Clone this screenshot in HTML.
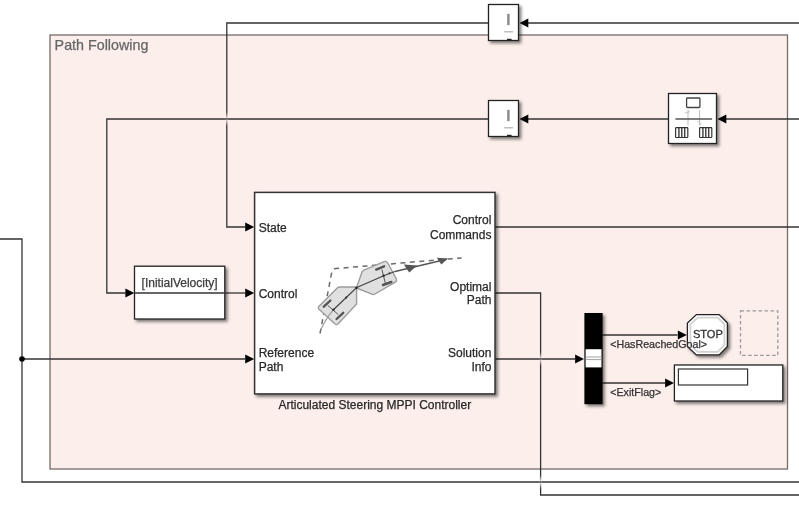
<!DOCTYPE html>
<html><head><meta charset="utf-8">
<style>
html,body{margin:0;padding:0;background:#fff;width:799px;height:529px;overflow:hidden}
svg{display:block;font-family:"Liberation Sans",sans-serif;will-change:transform}
</style></head>
<body>
<svg width="799" height="529" viewBox="0 0 799 529">
<defs>
<filter id="sh" x="-20%" y="-20%" width="150%" height="150%">
<feDropShadow dx="2.2" dy="2.2" stdDeviation="1.6" flood-color="#000" flood-opacity="0.5"/>
</filter>
<marker id="ar" viewBox="0 0 10 10" refX="10" refY="5" markerWidth="9" markerHeight="9" markerUnits="userSpaceOnUse" orient="auto">
<path d="M0,0 L10,5 L0,10 z" fill="#000"/>
</marker>
<linearGradient id="gpT" x1="0" y1="0" x2="0" y2="1"><stop offset="0" stop-color="#fcefeb" stop-opacity="0"/><stop offset="1" stop-color="#fcefeb" stop-opacity="0.85"/></linearGradient>
<linearGradient id="gpB" x1="0" y1="0" x2="0" y2="1"><stop offset="0" stop-color="#fcefeb" stop-opacity="0.85"/><stop offset="1" stop-color="#fcefeb" stop-opacity="0"/></linearGradient>
<linearGradient id="gwT" x1="0" y1="0" x2="0" y2="1"><stop offset="0" stop-color="#fff" stop-opacity="0"/><stop offset="1" stop-color="#fff" stop-opacity="0.85"/></linearGradient>
<linearGradient id="gwB" x1="0" y1="0" x2="0" y2="1"><stop offset="0" stop-color="#fff" stop-opacity="0.85"/><stop offset="1" stop-color="#fff" stop-opacity="0"/></linearGradient>
</defs>
<rect width="799" height="529" fill="#fff"/>
<!-- area -->
<rect x="50" y="35" width="737.5" height="434" fill="#fcefeb" stroke="#736c6a" stroke-width="1.3"/>
<text x="54.6" y="49.8" font-size="14.3" fill="#666" stroke="#666" stroke-width="0.25">Path Following</text>

<!-- signal lines -->
<g fill="none" stroke="#333" stroke-width="1.3">
<path d="M799,23 H528"/>
<path d="M488.5,23 H226.8 V227 H245"/>
<path d="M799,119 H726"/>
<path d="M668.5,119 H528"/>
<path d="M488.5,119 H106.8 V293 H125.5"/>
<path d="M224.5,293 H245"/>
<path d="M0,239 H22 V482 H799"/>
<path d="M22,359 H245"/>
<path d="M494.5,227 H799"/>
<path d="M494.5,293 H540.6 V495 H799"/>
<path d="M494.5,359 H575"/>
<path d="M602.5,335 H677.5"/>
<path d="M602.5,383 H665.5"/>
</g>
<!-- crossing gaps -->
<rect x="225.6" y="112" width="2.6" height="6.3" fill="url(#gpT)"/><rect x="225.6" y="119.7" width="2.6" height="6.3" fill="url(#gpB)"/>
<rect x="539.4" y="352" width="2.6" height="6.3" fill="url(#gpT)"/><rect x="539.4" y="359.7" width="2.6" height="6.3" fill="url(#gpB)"/>
<rect x="539.4" y="475" width="2.6" height="6.3" fill="url(#gwT)"/><rect x="539.4" y="482.7" width="2.6" height="6.3" fill="url(#gwB)"/>
<circle cx="22" cy="359" r="2.8" fill="#000"/>
<!-- arrowheads -->
<g fill="#000">
<path d="M519.5,23 L528.3,18.6 L528.3,27.4 z"/>
<path d="M519.5,119 L528.3,114.6 L528.3,123.4 z"/>
<path d="M717.5,119 L726.3,114.6 L726.3,123.4 z"/>
<path d="M254.2,227 L245.2,222.6 L245.2,231.4 z"/>
<path d="M134.3,293 L125.4,288.6 L125.4,297.4 z"/>
<path d="M254.2,293 L245.2,288.6 L245.2,297.4 z"/>
<path d="M254.2,359 L245.2,354.6 L245.2,363.4 z"/>
<path d="M584,359 L575.1,354.6 L575.1,363.4 z"/>
<path d="M686.8,335 L677.8,330.6 L677.8,339.4 z"/>
<path d="M674,383 L665.1,378.6 L665.1,387.4 z"/>
</g>

<!-- block 1 (top) -->
<g filter="url(#sh)"><rect x="488.5" y="4.5" width="30" height="36" fill="#fff" stroke="#222" stroke-width="1.3"/></g>
<rect x="507.2" y="13.8" width="2.4" height="11.4" fill="#8a8a8a"/>
<rect x="504" y="31.2" width="9" height="1.2" fill="#b0b0b0"/>
<rect x="507" y="38.8" width="4.6" height="1.8" fill="#222"/>
<!-- block 2 -->
<g filter="url(#sh)"><rect x="488.5" y="100.5" width="30" height="36" fill="#fff" stroke="#222" stroke-width="1.3"/></g>
<rect x="507.2" y="109.8" width="2.4" height="11.4" fill="#8a8a8a"/>
<rect x="504" y="127.2" width="9" height="1.2" fill="#b0b0b0"/>
<rect x="507" y="134.8" width="4.6" height="1.8" fill="#222"/>

<!-- block 3 (bus icon) -->
<g filter="url(#sh)"><rect x="668.5" y="93.5" width="48" height="50" fill="#fff" stroke="#222" stroke-width="1.3"/></g>
<rect x="686.6" y="98" width="13.3" height="9.5" rx="0.8" fill="none" stroke="#444" stroke-width="1.3"/>
<path d="M688,110 V125.5 M699.6,110 V125.5" stroke="#bdbdbd" stroke-width="1"/>
<path d="M684.8,113 L687,112.6 L689.6,111.8 M687.6,110.6 L689.6,111.8 M697.2,121.6 L699.4,122.2 L701.4,123.6 M699.8,125.4 L701.4,123.6" stroke="#c4c4c4" stroke-width="0.9" fill="none"/>
<path d="M675.4,119 H712.1" stroke="#555" stroke-width="1.3"/>
<g fill="none" stroke="#333" stroke-width="1.2">
<rect x="675.6" y="127.7" width="12.2" height="9.8" rx="0.8"/>
<rect x="699.6" y="127.7" width="12.2" height="9.8" rx="0.8"/>
</g>
<g stroke="#3a3a3a" stroke-width="1.4">
<path d="M678.9,127.7 V137.5 M681.8,127.7 V137.5 M684.7,127.7 V137.5"/>
<path d="M702.9,127.7 V137.5 M705.8,127.7 V137.5 M708.7,127.7 V137.5"/>
</g>

<!-- InitialVelocity block -->
<g filter="url(#sh)"><rect x="134.5" y="266.2" width="90.3" height="52.8" fill="#fff" stroke="#222" stroke-width="1.3"/></g>
<path d="M134.5,293 H224.8" stroke="#333" stroke-width="1.3"/>
<text x="179.6" y="287.3" font-size="12" fill="#3c3c3c" stroke="#3c3c3c" stroke-width="0.25" text-anchor="middle">[InitialVelocity]</text>

<!-- main block -->
<g filter="url(#sh)"><rect x="254.6" y="192.4" width="240.4" height="201.5" fill="#fff" stroke="#333" stroke-width="1.5"/></g>
<g font-size="12" fill="#282828" stroke="#282828" stroke-width="0.25">
<text x="258.7" y="231.6">State</text>
<text x="258.7" y="298">Control</text>
<text x="258.7" y="357">Reference</text>
<text x="258.7" y="370.7">Path</text>
<text x="491.4" y="224.4" text-anchor="end">Control</text>
<text x="491.4" y="238.6" text-anchor="end">Commands</text>
<text x="491.4" y="291" text-anchor="end">Optimal</text>
<text x="491.4" y="304.4" text-anchor="end">Path</text>
<text x="491.4" y="356.9" text-anchor="end">Solution</text>
<text x="491.4" y="370.6" text-anchor="end">Info</text>
</g>
<text x="374.8" y="409" font-size="12" fill="#282828" stroke="#282828" stroke-width="0.25" text-anchor="middle">Articulated Steering MPPI Controller</text>

<!-- vehicle icon -->
<g>
<path d="M320,333.5 L332,271 Q332.8,268.8 335.5,268.6 L461.6,257.9" fill="none" stroke="#6a6a6a" stroke-width="1.5" stroke-dasharray="5,4.5"/>
<path d="M318.8,306.4 Q317.6,307.8 319,309.2 L335,324 Q336.5,325.2 338,324 L356.6,304 L356.6,288.5 Q356.3,287 354.8,287 L339.5,287 Q338.3,287 337.5,287.8 z" fill="#e0e0e0" stroke="#9c9c9c" stroke-width="1.4"/>
<path d="M356.4,288 L362,272 Q362.8,270.5 364.5,269.8 L384,261.6 Q386.5,260.8 387.8,263 L396.4,279 Q397,281.5 394.5,282.6 L375,294 Q373.5,294.8 372,294.2 z" fill="#e0e0e0" stroke="#9c9c9c" stroke-width="1.4"/>
<path d="M320.7,330 Q326,318 333.4,309.8" fill="none" stroke="#999" stroke-width="1.1"/>
<path d="M333.4,309.8 L356.4,287.7 L383.6,275.8 L395,271.5" fill="none" stroke="#444" stroke-width="1.2"/>
<path d="M395,271.5 L446.7,259.2" fill="none" stroke="#555" stroke-width="1.4"/>
<path d="M403.8,264.6 L417.2,265.6 L409.2,272.4 z" fill="#555"/>
<path d="M436.8,257.8 L448,258.6 L441.3,264.6 z" fill="#555"/>
<g stroke="#555" stroke-width="2.4" stroke-linecap="round">
<path d="M323.8,306.7 L330.4,300.5"/>
<path d="M336.6,319 L343.2,312.8"/>
<path d="M376.2,269.6 L384.1,266.3"/>
<path d="M383,285 L391.4,282"/>
</g>
<g stroke="#555" stroke-width="1">
<path d="M327.8,305.5 L338.2,314.5"/>
<path d="M381.9,269.5 L385.3,283"/>
</g>
<g fill="#333">
<circle cx="333.4" cy="309.8" r="1.3"/>
<circle cx="346.2" cy="297.6" r="1.1"/>
<circle cx="356.4" cy="287.8" r="1.4"/>
<circle cx="383.6" cy="275.8" r="1.3"/>
<circle cx="389.5" cy="273.3" r="1"/>
</g>
</g>

<!-- bus selector -->
<g filter="url(#sh)"><rect x="584.4" y="313" width="18.2" height="91.2" fill="#000"/></g>
<rect x="585.6" y="349.2" width="15.9" height="18.2" fill="#fff"/>
<path d="M585.6,357 H601.5 M585.6,359.6 H601.5" stroke="#888" stroke-width="0.8"/>

<!-- signal labels -->
<g font-size="10.7" fill="#333" stroke="#333" stroke-width="0.25">
<text x="610.2" y="395.6">&lt;ExitFlag&gt;</text>
</g>

<!-- STOP block -->
<g filter="url(#sh)"><path d="M696.4,314.6 H719.1 L727.4,323.1 V346.4 L719.1,354.9 H696.4 L687.4,346.4 V323.1 z" fill="#fff" stroke="#222" stroke-width="1.3"/></g>
<path d="M697.8,317.6 H717.8 L724.4,324.4 V345.1 L717.8,351.9 H697.8 L690.4,345.1 V324.4 z" fill="none" stroke="#d2d2d2" stroke-width="1.8"/>
<text x="707.9" y="338.1" font-size="11.1" fill="#333" stroke="#333" stroke-width="0.3" text-anchor="middle">STOP</text>
<!-- redraw label part over stop -->
<text x="610.2" y="347.6" font-size="10.7" fill="#333" stroke="#333" stroke-width="0.25">&lt;HasReachedGoal&gt;</text>

<!-- dashed placeholder -->
<rect x="740.5" y="310.8" width="37.3" height="44.6" fill="none" stroke="#9a9a9a" stroke-width="1.3" stroke-dasharray="3.6,2.4"/>

<!-- display block -->
<g filter="url(#sh)"><rect x="674.4" y="365" width="108.4" height="36" fill="#fff" stroke="#222" stroke-width="1.3"/></g>
<rect x="678.4" y="369" width="69.2" height="16" fill="#fff" stroke="#333" stroke-width="1.2"/>
</svg>
</body></html>
